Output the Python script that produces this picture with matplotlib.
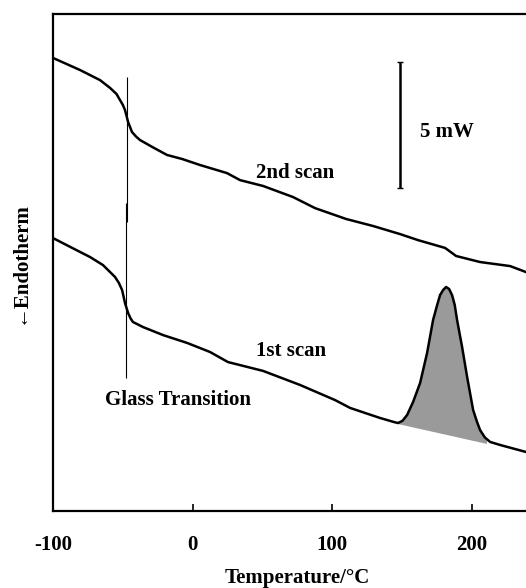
import numpy as np
import matplotlib
matplotlib.use('Agg')
import matplotlib.pyplot as plt

plt.rcParams['font.family'] = ['Liberation Serif', 'DejaVu Serif']
plt.rcParams['font.weight'] = 'bold'
plt.rcParams['axes.labelweight'] = 'bold'
plt.rcParams['axes.unicode_minus'] = False
plt.rcParams['font.size'] = 15

# --- data (temperature in C, heat flow in mW, arbitrary offset) ---
temp_2nd = [-100, -80.6, -66.3, -59.1, -54.5, -52.0, -50.0, -48.4, -46.2, -43.4, -40.5, -37.6,
            -28.0, -18.3, -7.5, 5.4, 24.7, 34.1, 50.5, 72.0, 87.8, 110.0, 129.4, 148.7, 161.6,
            181.0, 188.9, 206.1, 227.6, 239.1]
heat_2nd = [17.98, 17.5, 17.1, 16.79, 16.55, 16.31, 16.12, 15.91, 15.44, 15.04, 14.86, 14.72,
            14.42, 14.13, 13.97, 13.73, 13.41, 13.13, 12.90, 12.46, 12.02, 11.59, 11.31, 10.99, 10.75,
            10.44, 10.12, 9.88, 9.72, 9.48]

temp_1st = [-100, -80.6, -73.5, -64.2, -55.6, -52.8, -50.5, -48.4, -46.2, -44.4, -42.7, -35.5,
            -21.1, -3.9, 12.5, 25.4, 50.5, 77.1, 102.2, 112.9, 134.4, 145.0, 147.3, 150.5, 153.8,
            158.1, 163.1, 168.1, 172.4, 175.2, 177.4, 179.6, 181.7, 183.9, 186.0, 187.9, 189.6,
            193.2, 196.8, 201.1, 203.8, 206.1, 209.5, 213.3, 220.4, 239.1]
heat_1st = [10.83, 10.28, 10.08, 9.76, 9.29, 9.05, 8.77, 8.25, 7.86, 7.64, 7.50, 7.30,
            6.98, 6.67, 6.31, 5.91, 5.56, 5.0, 4.40, 4.09, 3.69, 3.52, 3.49, 3.58, 3.81,
            4.33, 5.08, 6.27, 7.58, 8.15, 8.57, 8.77, 8.89, 8.81, 8.57, 8.18, 7.58,
            6.51, 5.32, 4.01, 3.55, 3.21, 2.92, 2.74, 2.62, 2.34]

# melting peak baseline (start / end)
peak_base_t = [147.3, 211.0]
peak_base_h = [3.45, 2.66]

# glass transition markers
tg_2nd = -47.0
tg_2nd_span = [11.47, 17.22]
tg_1st = -47.9
tg_1st_span = [5.28, 12.22]

# 5 mW scale bar
bar_t = 148.7
bar_span = [12.82, 17.82]

fig = plt.figure(figsize=(5.26, 5.88), dpi=100)
ax = fig.add_axes([0.1008, 0.131, 0.8992, 0.845])

ax.plot(temp_2nd, heat_2nd, color='black', lw=1.8, solid_joinstyle='round')
ax.plot(temp_1st, heat_1st, color='black', lw=1.8, solid_joinstyle='round')

# shaded melting endotherm
t1 = np.array(temp_1st)
h1 = np.array(heat_1st)
m = (t1 >= peak_base_t[0]) & (t1 <= peak_base_t[1])
tp = np.concatenate([[peak_base_t[0]], t1[m], [peak_base_t[1]]])
hp = np.interp(tp, t1, h1)
base = np.interp(tp, peak_base_t, peak_base_h)
ax.fill_between(tp, base, hp, facecolor='#9a9a9a', edgecolor='none')

ax.vlines(tg_2nd, *tg_2nd_span, color='black', lw=0.8)
ax.vlines(tg_1st, *tg_1st_span, color='black', lw=0.8)

ax.vlines(bar_t, *bar_span, color='black', lw=1.8)
ax.plot([bar_t, bar_t], bar_span, ls='none', marker='_', ms=5, mew=1, color='black')

ax.text(73.5, 13.41, '2nd scan', ha='center', va='center')
ax.text(70.6, 6.35, '1st scan', ha='center', va='center')
ax.text(-10.4, 4.40, 'Glass Transition', ha='center', va='center')
ax.text(163.1, 15.04, '5 mW', ha='left', va='center')

ax.set_xlim(-100, 239)
ax.set_ylim(0, 19.72)
ax.set_xticks([-100, 0, 100, 200])
ax.set_yticks([])
ax.tick_params(axis='x', direction='in', length=5, width=1.2, pad=17)
for s in ['left', 'bottom', 'top']:
    ax.spines[s].set_linewidth(1.6)
ax.spines['right'].set_visible(False)

ax.set_xlabel('Temperature/°C', fontweight='bold')
ax.xaxis.set_label_coords(0.516, -0.115)
ax.text(-0.07, 0.5, '←Endotherm', rotation=90, ha='center', va='center',
        transform=ax.transAxes)

fig.savefig('out.png', dpi=100)
